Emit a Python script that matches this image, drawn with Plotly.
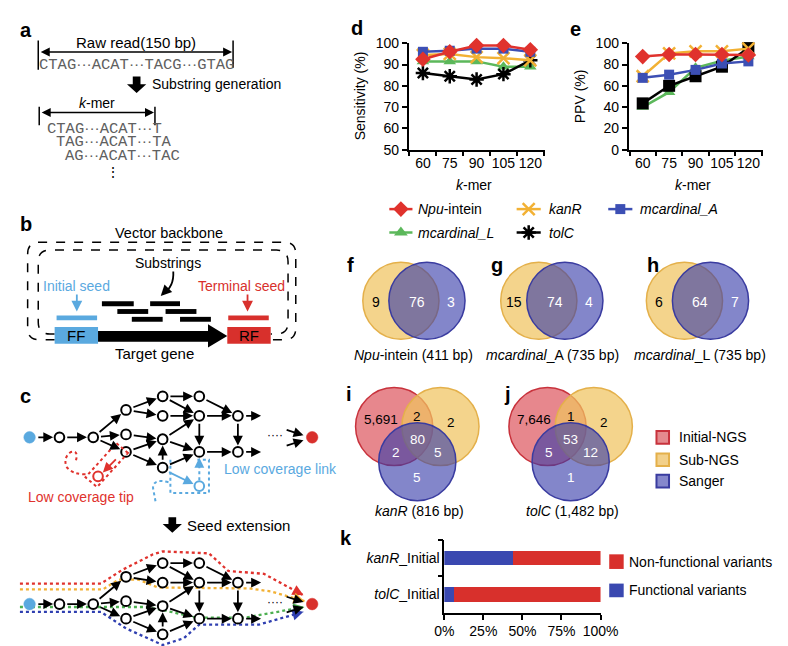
import math
import plotly.graph_objects as go

W, H = 788, 646
SANS = "Liberation Sans, Arial, sans-serif"
MONO = "Liberation Mono, Courier New, monospace"

# ---------------- data ----------------
kmer = ["60", "75", "90", "105", "120"]
names = ["<i>Npu</i>-intein", "<i>kanR</i>", "<i>mcardinal_A</i>", "<i>mcardinal_L</i>", "<i>tolC</i>"]
sens_npu = [92.5, 96, 99, 99, 97]
sens_kanr = [94.5, 95, 93.5, 93, 92]
sens_mca = [96, 96.5, 97.5, 97.5, 96]
sens_mcl = [91.5, 91.5, 91.5, 89, 89]
sens_tolc = [86, 84.5, 83, 85.5, 92]
ppv_npu = [87.5, 89.5, 89.5, 89.5, 89]
ppv_kanr = [69, 90.5, 92.5, 92.5, 95]
ppv_mca = [67.5, 70.5, 75, 81, 83]
ppv_mcl = [40, 54, 77, 83.5, 87.5]
ppv_tolc = [43.5, 60, 69, 78, 95.5]

venn_f = [9, 76, 3]
venn_g = [15, 74, 4]
venn_h = [6, 64, 7]
# order: initial-only, initial&sub, sub-only, all, initial&sanger, sub&sanger, sanger-only
venn_i = ["5,691", "2", "2", "80", "2", "5", "5"]
venn_j = ["7,646", "1", "2", "53", "5", "12", "1"]

k_cats = ["<i>kanR</i>_Initial", "<i>tolC</i>_Initial"]
k_functional = [44, 6]
k_nonfunctional = [56, 94]
k_ticks = [0, 25, 50, 75, 100]
k_ticktext = ["0%", "25%", "50%", "75%", "100%"]

RED = "#e0322d"
ORANGE = "#f2b134"
BLUE = "#3c4fb4"
GREEN = "#5cb85b"
LBLUE = "#5aa9df"
SRED = "#d8302c"
SEQ = "#606060"

shapes, ann = [], []


def T(x, y, s, size=14, color="black", xa="center", fam=SANS, angle=0):
    ann.append(dict(x=x, y=y, xref="x", yref="y", text=s, showarrow=False,
                    font=dict(size=size, color=color, family=fam),
                    xanchor=xa, yanchor="middle", textangle=angle))


def A(x0, y0, x1, y1, color="black", w=1.8, head=2, size=1.0, side="end"):
    ann.append(dict(x=x1, y=y1, ax=x0, ay=y0, xref="x", yref="y", axref="x", ayref="y",
                    text="", showarrow=True, arrowhead=head, arrowsize=size,
                    arrowwidth=w, arrowcolor=color, arrowside=side,
                    startarrowhead=head, startarrowsize=size, standoff=0, startstandoff=0))


def L(x0, y0, x1, y1, color="black", w=1.5, dash="solid"):
    shapes.append(dict(type="line", xref="x", yref="y", x0=x0, y0=y0, x1=x1, y1=y1,
                       line=dict(color=color, width=w, dash=dash)))


def R(x0, y0, x1, y1, fill):
    shapes.append(dict(type="rect", xref="x", yref="y", x0=x0, y0=y0, x1=x1, y1=y1,
                       fillcolor=fill, line=dict(width=0)))


def P(path, color="black", w=1.5, dash="solid", fill=None):
    d = dict(type="path", xref="x", yref="y", path=path,
             line=dict(color=color, width=w, dash=dash))
    if fill:
        d["fillcolor"] = fill
        d["line"] = dict(width=0)
    shapes.append(d)


def C(cx, cy, r, fill, line, w=2):
    shapes.append(dict(type="circle", xref="x", yref="y", x0=cx - r, x1=cx + r,
                       y0=cy - r, y1=cy + r, fillcolor=fill,
                       line=dict(color=line, width=w)))


def down_arrow(cx, yt, yb):
    P(f"M {cx-4},{yt} L {cx+4},{yt} L {cx+4},{yb-9} L {cx+10},{yb-9} L {cx},{yb} "
      f"L {cx-10},{yb-9} L {cx-4},{yb-9} Z", fill="black")


def bold(x, y, s):
    T(x, y, f"<b>{s}</b>", size=20)


DOTS = '<span style="font-family:Liberation Sans, Arial, sans-serif">···</span>'


def seq(parts):
    return DOTS.join(parts)

# ---------------- panel a ----------------
bold(8, 14, "a")
L(21, 25, 21, 55); L(223, 25, 223, 53)
A(22, 37, 222, 37, w=1.5, size=1.2, side="end+start")
T(122, 27, "Raw read(150 bp)", 15)
T(123, 50, seq(["CTAG", "ACAT", "TACG", "GTAG"]), 15.5, SEQ, fam=MONO)
down_arrow(123, 62, 79)
T(137, 70, "Substring generation", 14, xa="left")
T(82, 89, "<i>k</i>-mer", 14)
L(22, 93, 22, 112); L(142, 93, 142, 112)
A(23, 99, 141, 99, w=1.5, size=1.2, side="end+start")
T(28, 115, seq(["CTAG", "ACAT", "T"]), 15.5, SEQ, xa="left", fam=MONO)
T(37.5, 129, seq(["TAG", "ACAT", "TA"]), 15.5, SEQ, xa="left", fam=MONO)
T(47, 143, seq(["AG", "ACAT", "TAC"]), 15.5, SEQ, xa="left", fam=MONO)
T(98, 160, "⋮", 14, "black")

# ---------------- panel b ----------------
bold(8, 213, "b")
T(157, 222, "Vector backbone", 14.5)
P("M 38,332 L 22,332 Q 10,332 10,320 L 10,244 Q 10,232 22,232 L 276,232 "
  "Q 288,232 288,244 L 288,320 Q 288,332 276,332 L 262,332", dash="dash")
P("M 38,326 L 33,326 Q 21,326 21,314 L 21,252 Q 21,240 33,240 L 268,240 "
  "Q 280,240 280,252 L 280,314 Q 280,326 268,326 L 262,326", dash="dash")
T(156, 253, "Substrings", 14)
P("M 161,262 Q 162,278 150,285", w=1.8)
A(153, 282, 148, 287, w=1.8, size=1.2)
T(61, 277, "Initial seed", 14, LBLUE)
A(61, 284, 61, 303, color=LBLUE, w=1.8, size=1.2)
R(40, 307, 82, 312, LBLUE)
R(38, 319, 83, 336, LBLUE)
T(60, 328, "FF", 15)
P("M 83,323 L 197,323 L 197,316 L 217,328 L 197,340 L 197,334 L 83,334 Z", fill="black")
R(217, 319, 262, 336, SRED)
T(240, 328, "RF", 15)
R(218, 307, 260, 312, SRED)
T(232, 277, "Terminal seed", 14, SRED)
A(238, 284, 238, 303, color=SRED, w=1.8, size=1.2)
for (x0, x1, yy) in [(87, 120, 295), (137, 168, 295), (103, 135, 303), (153, 185, 303),
                     (118, 150, 311), (168, 200, 311)]:
    R(x0, yy - 2.5, x1, yy + 2.5, "black")
T(142, 346, "Target gene", 15)

# ---------------- panel c ----------------
bold(8, 390, "c")


def graph(y0):
    N = {
        "N1": (43, y0), "N2": (78, y0),
        "A": (112, y0 - 28), "B": (112, y0 - 3), "C": (112, y0 + 15),
        "D": (150, y0 - 42), "E": (150, y0 - 22), "F": (150, y0 + 2), "G": (150, y0 + 31),
        "H": (188, y0 - 42), "I": (188, y0 - 22), "J": (188, y0 + 15),
        "K": (228, y0 - 22), "L": (228, y0 + 15),
    }
    S = (12, y0)
    E_ = [("N1", "N2"), ("N2", "A"), ("N2", "B"), ("N2", "C"), ("A", "D"), ("A", "E"),
          ("B", "F"), ("C", "F"), ("C", "G"), ("D", "H"), ("D", "I"), ("E", "I"),
          ("F", "I"), ("F", "J"), ("G", "F"), ("G", "J"), ("H", "K"), ("I", "J"),
          ("I", "K"), ("J", "L"), ("K", "L")]

    def edge(p, q, r1=5, r2=5):
        dx, dy = q[0] - p[0], q[1] - p[1]
        d = math.hypot(dx, dy)
        ux, uy = dx / d, dy / d
        A(p[0] + ux * (r1 + 1.5), p[1] + uy * (r1 + 1.5),
          q[0] - ux * (r2 + 1.5), q[1] - uy * (r2 + 1.5), w=1.8, size=1.1)

    edge(S, N["N1"], 6, 5)
    for a, b in E_:
        edge(N[a], N[b])
    A(235, y0 - 22, 252, y0 - 22, w=1.8, size=1.1)
    A(235, y0 + 15, 252, y0 + 15, w=1.8, size=1.1)
    T(266, y0 - 2, "····", 12)
    A(277, y0 - 8, 296, y0 - 2, w=1.8, size=1.1)
    A(277, y0 + 9, 296, y0 + 3, w=1.8, size=1.1)
    for (x, y) in N.values():
        C(x, y, 5, "white", "black", 2)
    C(S[0], S[1], 6, LBLUE, LBLUE, 0.5)
    C(305, y0, 6, SRED, SRED, 0.5)


y1 = 603
paths = [
    (RED, [(2, 582), (86, 582), (108, 568), (140, 552), (150, 549), (198, 551), (218, 569),
           (255, 572), (296, 594)]),
    (ORANGE, [(2, 588), (88, 588), (104, 578), (125, 578), (145, 586), (240, 587),
              (262, 590), (297, 600)]),
    ("#4caf50", [(2, 606), (90, 606), (130, 606), (150, 609), (185, 617), (235, 617),
                 (297, 606)]),
    ("#2f3fb0", [(2, 611), (86, 611), (112, 628), (150, 645), (172, 638), (188, 624),
                 (250, 624), (296, 611)]),
]
for col, pts in paths:
    P("M " + " L ".join(f"{x},{y}" for x, y in pts), color=col, w=2.3, dash="dot")
    (xa, ya), (xb, yb) = pts[-2], pts[-1]
    d = math.hypot(xb - xa, yb - ya)
    A(xb - (xb - xa) / d * 6, yb - (yb - ya) / d * 6, xb, yb, color=col, w=2, size=1.1)

graph(432)
graph(y1)

# low coverage tip (red dotted)
P("M 114,448 L 102,438 L 70,473 L 82,483 Z", color=RED, w=2, dash="dot")
P("M 70,470 Q 56,470 50,462 Q 47,452 55,447 Q 63,445 60,456", color=RED, w=2, dash="dot")
A(103, 453, 88, 468, color=RED, w=1.8, size=1.1)
C(83, 472, 5, "white", RED, 2)
T(65, 493, "Low coverage tip", 14, RED)

# low coverage link (blue dotted)
P("M 158,455 L 158,489 L 198,489 L 198,455 L 186,455", color=LBLUE, w=2, dash="dot")
P("M 156,478 Q 140,474 140,484 L 143,500", color=LBLUE, w=2, dash="dot")
A(155, 467, 182, 480, color=LBLUE, w=1.8, size=1.1)
P("M 188,476 L 188,456", color=LBLUE, w=2, dash="dot")
A(188, 460, 188, 453, color=LBLUE, w=1.8, size=1.1)
C(188, 482, 5, "white", LBLUE, 2)
T(212, 465, "Low coverage link", 14, LBLUE, xa="left")

down_arrow(160, 514, 530)
T(173, 522, "Seed extension", 15, xa="left")

# ---------------- legend for d/e ----------------
leg = [
    (385, 409, 198, RED, "diamond", 12, names[0], 413),
    (517, 542, 198, ORANGE, "x-thin-open", 12, names[1], 548),
    (612, 637, 198, BLUE, "square", 10, names[2], 643),
    (385, 409, 222, GREEN, "triangle-up", 12, names[3], 413),
    (517, 542, 222, "black", "asterisk-open", 12, names[4], 548),
]
traces = []
for x0, x1, y, col, sym, sz, txt, xt in leg:
    L(x0, y, x1, y, col, 2.5)
    traces.append(go.Scatter(x=[(x0 + x1) / 2], y=[y], mode="markers", xaxis="x", yaxis="y",
                             marker=dict(symbol=sym, size=sz, color=col,
                                         line=dict(color=col, width=2.5 if "open" in sym else 0)),
                             hoverinfo="skip"))
    T(xt, y, txt, 14, xa="left")

# ---------------- d/e line charts ----------------
series = [
    (sens_mcl, ppv_mcl, GREEN, "triangle-up", 11),
    (sens_tolc, ppv_tolc, "black", "asterisk-open", 12),
    (sens_kanr, ppv_kanr, ORANGE, "x-thin-open", 12),
    (sens_mca, ppv_mca, BLUE, "square", 10),
    (sens_npu, ppv_npu, RED, "diamond", 12),
]
for s_vals, p_vals, col, sym, sz in series:
    mk = dict(symbol=sym, size=sz, color=col,
              line=dict(color=col, width=2.5 if "open" in sym else 0))
    traces.append(go.Scatter(x=kmer, y=s_vals, mode="lines+markers", xaxis="x2", yaxis="y2",
                             line=dict(color=col, width=2.5), marker=mk, cliponaxis=False))
for s_vals, p_vals, col, sym, sz in series:
    sym2 = "square" if sym == "asterisk-open" else sym
    mk = dict(symbol=sym2, size=12 if sym2 == "square" and col == "black" else sz, color=col,
              line=dict(color=col, width=2.5 if "open" in sym2 else 0))
    traces.append(go.Scatter(x=kmer, y=p_vals, mode="lines+markers", xaxis="x3", yaxis="y3",
                             line=dict(color=col, width=2.5), marker=mk, cliponaxis=False))

bold(352, 12, "d")
bold(578, 13, "e")
T(355, 82, "Sensitivity (%)", 14, angle=-90)
T(583, 82, "PPV (%)", 14, angle=-90)
T(473, 173, "<i>k</i>-mer", 14)
T(700, 173, "<i>k</i>-mer", 14)

# ---------------- venn f/g/h ----------------
YF = "rgba(240,195,95,0.72)"
YL = "#e4b04a"
BF = "rgba(55,60,170,0.62)"
BL = "#3a3ca0"
RF_ = "rgba(215,55,65,0.6)"
RL = "#c8323c"
for lab, lx, cy, cb, vals, cap, capx in [
        ("f", 345, 397, 424, venn_f, "<i>Npu</i>-intein (411 bp)", 410),
        ("g", 497, 540, 567, venn_g, "<i>mcardinal</i>_A (735 bp)", 554),
        ("h", 658, 691, 718, venn_h, "<i>mcardinal</i>_L (735 bp)", 707)]:
    C(cy, 292, 39.5, YF, YL, 1.5)
    C(cb, 292, 39.5, BF, BL, 1.5)
    bold(lx, 255, lab)
    T(cy - 26, 293, str(vals[0]), 14, "black")
    T((cy + cb) / 2 + 3, 293, str(vals[1]), 14, "white")
    T(cb + 25, 293, str(vals[2]), 14, "white")
    T(capx, 348, cap, 14)

# ---------------- venn i/j ----------------
for lab, lx, cx, vals, cap in [("i", 343, 414, venn_i, "<i>kanR</i> (816 bp)"),
                                ("j", 508, 573, venn_j, "<i>tolC</i> (1,482 bp)")]:
    C(cx - 24, 421, 40, RF_, RL, 1.5)
    C(cx + 24, 421, 40, YF, YL, 1.5)
    C(cx, 457, 40, BF, BL, 1.5)
    bold(lx, 388, lab)
    T(cx - 38, 414, vals[0], 13.5, "black")
    T(cx, 411, vals[1], 13.5, "black")
    T(cx + 35, 417, vals[2], 13.5, "black")
    T(cx, 434, vals[3], 13.5, "white")
    T(cx - 22, 448, vals[4], 13.5, "white")
    T(cx + 21, 448, vals[5], 13.5, "white")
    T(cx, 473, vals[6], 13.5, "white")
    T(cx + 2, 508, cap, 14)

for yy, fill, line, txt in [(432, "#e58a8e", RL, "Initial-NGS"),
                            (455, "#f2d08a", YL, "Sub-NGS"),
                            (477, "#8688cc", BL, "Sanger")]:
    shapes.append(dict(type="rect", xref="x", yref="y", x0=662, x1=675, y0=yy - 6.5,
                       y1=yy + 6.5, fillcolor=fill, line=dict(color=line, width=2)))
    T(683, yy, txt, 14, xa="left")

# ---------------- panel k ----------------
bold(340, 535, "k")
traces.append(go.Bar(x=k_functional, y=k_cats, orientation="h", marker_color="#3a48b0",
                     xaxis="x4", yaxis="y4", marker_line_width=0))
traces.append(go.Bar(x=k_nonfunctional, y=k_cats, orientation="h", marker_color=SRED,
                     xaxis="x4", yaxis="y4", marker_line_width=0))
R(613, 552, 628, 567, SRED)
R(613, 582, 628, 596, "#3a48b0")
T(631, 560, "Non-functional variants", 14, xa="left")
T(631, 589, "Functional variants", 14, xa="left")

fig = go.Figure(traces)


def dom_x(a, b):
    return [a / W, b / W]


def dom_y(top, bot):
    return [1 - bot / H, 1 - top / H]


axis_common = dict(showline=True, linecolor="black", linewidth=1.5, ticks="outside",
                   ticklen=5, tickwidth=1.5, tickcolor="black", showgrid=False,
                   zeroline=False, tickangle=0,
                   tickfont=dict(size=14, family=SANS, color="black"))

fig.update_layout(
    width=W, height=H, margin=dict(l=0, r=0, t=0, b=0), autosize=False,
    paper_bgcolor="white", plot_bgcolor="rgba(0,0,0,0)", showlegend=False,
    barmode="stack", bargap=0.6,
    font=dict(family=SANS, size=14, color="black"),
    xaxis=dict(domain=[0, 1], range=[0, W], visible=False, fixedrange=True),
    yaxis=dict(domain=[0, 1], range=[H, 0], visible=False, fixedrange=True),
    xaxis2=dict(domain=dom_x(405, 546), anchor="y2", type="category", tickson="boundaries",
                **axis_common),
    yaxis2=dict(domain=dom_y(28, 137), anchor="x2", range=[50, 100], dtick=10, **axis_common),
    xaxis3=dict(domain=dom_x(633, 772), anchor="y3", type="category", tickson="boundaries",
                **axis_common),
    yaxis3=dict(domain=dom_y(28, 137), anchor="x3", range=[0, 100], dtick=20, **axis_common),
    xaxis4=dict(domain=dom_x(442, 604), anchor="y4", range=[0, 100],
                tickmode="array", tickvals=k_ticks, ticktext=k_ticktext, **axis_common),
    yaxis4=dict(domain=dom_y(537, 612), anchor="x4", type="category", tickson="boundaries",
                autorange="reversed", **axis_common),
    shapes=shapes, annotations=ann,
)
fig.write_html("out.html")
